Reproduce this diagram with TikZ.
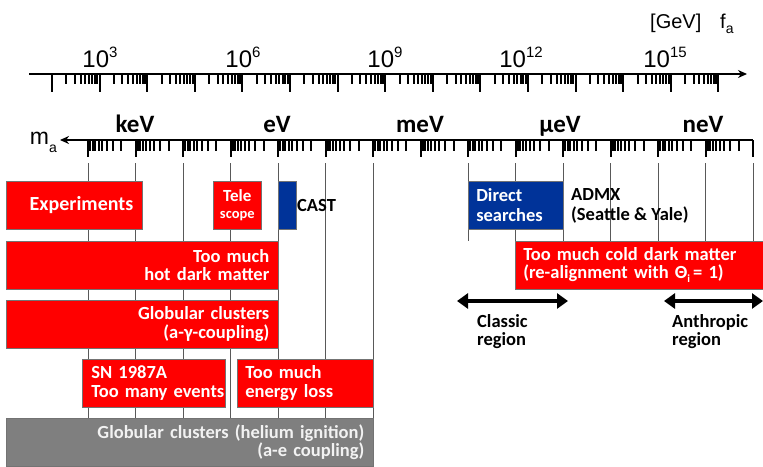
\documentclass[tikz,border=0pt]{standalone}
\usepackage{fontspec}
\setmainfont{Carlito}
\newfontfamily\axisfont{Liberation Sans}
\usetikzlibrary{arrows.meta}
\definecolor{barred}{RGB}{255,0,0}
\definecolor{barblue}{RGB}{0,51,153}
\definecolor{bargray}{RGB}{127,127,127}
\newcommand\pw[1]{\raisebox{9.5pt}{\fontsize{15}{15}\selectfont #1}}
\newcommand\lowsub[2]{\raisebox{#1}{\fontsize{14}{14}\selectfont #2}}
\begin{document}
\begin{tikzpicture}[x=1pt,y=-1pt,line cap=butt,
	bar/.style={draw=black!55,line width=0.6pt,anchor=north west,inner xsep=9pt,inner ysep=0pt,minimum height=47.5pt,text=white,font=\bfseries\fontsize{18.5}{18.5}\selectfont},
	redbar/.style={bar,fill=barred},
	bluebar/.style={bar,fill=barblue},
	graybar/.style={bar,fill=bargray,text=black!5},
	note/.style={anchor=north west,inner sep=0pt,align=left,font=\bfseries\fontsize{18.5}{18.5}\selectfont},
	unit/.style={anchor=base,inner sep=0pt,font=\bfseries\fontsize{25}{25}\selectfont},
	power/.style={anchor=base,inner sep=0pt,font=\axisfont\fontsize{24}{24}\selectfont},
	gridline/.style={black!65,line width=0.6pt},
	tick/.style={line width=2pt},
	region/.style={line width=4pt,{Triangle[length=11pt,width=15pt]}-{Triangle[length=11pt,width=15pt]}}]
	\useasboundingbox (0,0) rectangle (763,466);
	\def\df{47.6}
	\def\dm{47.5}
	\path
	(29,74) coordinate (fL)
	(747,74) coordinate (fR)
	(753,140) coordinate (mR)
	(60,140) coordinate (mL)
	(457,301) coordinate (cl1)
	(568,301) coordinate (cl2)
	(664,301) coordinate (an1)
	(763,301) coordinate (an2);
	\foreach \k in {0,...,6} \draw[gridline] (88+\dm*\k,163)--(88+\dm*\k,418);
	\foreach \k in {8,...,14} \draw[gridline] (88+\dm*\k,163)--(88+\dm*\k,241);
	% f_a axis
	\draw[line width=2pt,-{Stealth[length=9pt,width=8pt]}] (fL)--(fR);
	\foreach \k in {0,...,14} \draw[tick] (52+\df*\k,74)--++(0,18);
	\foreach \k in {0,...,13} \foreach \j in {2,...,9} \draw[tick] ({52+\df*(\k+log10(\j))},74)--++(0,10);
	\node[power] (p3) at (100,67) {10\pw{3}};
	\node[power] (p6) at (243,67) {10\pw{6}};
	\node[power] (p9) at (385,67) {10\pw{9}};
	\node[power] (p12) at (521,67) {10\pw{12}};
	\node[power] (p15) at (665,67) {10\pw{15}};
	\node[anchor=base west,inner sep=0pt,font=\axisfont\fontsize{20}{20}\selectfont] (gev) at (650,28) {[GeV]};
	\node[anchor=base west,inner sep=0pt,font=\axisfont\fontsize{20}{20}\selectfont] (fa) at (720,28) {f\lowsub{-5pt}{a}};
	% m_a axis
	\draw[line width=2pt,-{Stealth[length=9pt,width=8pt]}] (mR)--(mL);
	\foreach \k in {0,...,14} \draw[tick] (88+\dm*\k,140)--++(0,17);
	\foreach \k in {0,...,13} \foreach \j in {2,...,9} \draw[tick] ({88+\dm*(\k+1-log10(\j))},140)--++(0,11);
	\node[anchor=base east,inner sep=0pt,font=\axisfont\fontsize{23}{23}\selectfont] (ma) at (57,144) {m\lowsub{-8pt}{a}};
	\node[unit] (keV) at (135,132) {keV};
	\node[unit] (eV) at (277,132) {eV};
	\node[unit] (meV) at (420,132) {meV};
	\node[unit] (ueV) at (560,132) {μeV};
	\node[unit] (neV) at (703,132) {neV};
	% bounds
	\node[redbar,text width=118pt,align=right,font=\bfseries\fontsize{20}{20}\selectfont] (exp) at (6,181) {Experiments};
	\node[redbar,inner xsep=2pt,text width=44pt,align=center,font=\bfseries\fontsize{17}{17}\selectfont] (tele) at (213,181) {Tele\\{\fontsize{14.5}{16}\selectfont scope}};
	\node[bluebar,inner xsep=0pt,minimum width=18pt] (cast) at (278,181) {};
	\node[anchor=base west,inner sep=0pt,font=\bfseries\fontsize{18.5}{18.5}\selectfont] (castl) at (297,211) {CAST};
	\node[bluebar,inner xsep=8pt,text width=79pt,align=left,font=\bfseries\fontsize{18.5}{20}\selectfont] (direct) at (468,181) {Direct\\searches};
	\node[note,font=\bfseries\fontsize{18.5}{20}\selectfont] (admx) at (571,188) {ADMX\\(Seattle \& Yale)};
	\node[redbar,text width=254pt,align=right] (hot) at (6,241) {Too much\\hot dark matter};
	\node[redbar,inner xsep=8pt,text width=239pt,align=left] (cold) at (515,241) {Too much cold dark matter\\(re-alignment with Θ\lowsub{-4pt}{\fontsize{11}{11}\selectfont i}\,= 1)};
	\node[redbar,text width=254pt,align=right] (gcg) at (6,300) {Globular clusters\\(a-γ-coupling)};
	\node[redbar,text width=125pt,align=left] (sn) at (82,359) {SN 1987A\\\mbox{Too many events}};
	\node[redbar,inner xsep=8pt,text width=120pt,align=left] (eloss) at (237,359) {Too much\\energy loss};
	\node[graybar,text width=349pt,align=right] (gce) at (6,418) {Globular clusters (helium ignition)\\(a-e coupling)};
	% regions
	\draw[region] (cl1)--(cl2);
	\draw[region] (an1)--(an2);
	\node[note] (classic) at (477,314) {Classic\\region};
	\node[note] (anthropic) at (672,314) {Anthropic\\region};
\end{tikzpicture}
\end{document}
